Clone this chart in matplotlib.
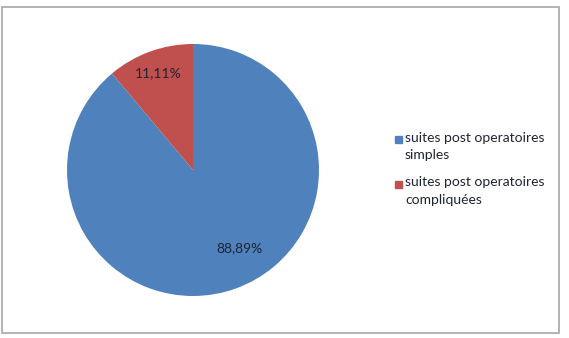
import matplotlib
matplotlib.use("Agg")
import matplotlib.pyplot as plt
import matplotlib.patches as patches
import numpy as np

# data
labels = ["suites post operatoires\nsimples", "suites post operatoires\ncompliquées"]
values = [88.89, 11.11]
colors = ["#4F81BD", "#C0504D"]

W, H = 569, 338
fig = plt.figure(figsize=(W / 100, H / 100), dpi=100)
plt.rcParams['font.family'] = ['Lato', 'DejaVu Sans']

# outer frame
fig.patches.append(patches.Rectangle((1.5 / W, (H - 332.5) / H), 557 / W, 326 / H,
                                     transform=fig.transFigure, fill=False,
                                     edgecolor="#A6A6A6", lw=1.2))

# pie axes: centre (193,170), radius 126 px
cx, cy, r = 193, 170, 126
ax = fig.add_axes([(cx - r) / W, (H - cy - r) / H, 2 * r / W, 2 * r / H])
wedges, _ = ax.pie(values, colors=colors, startangle=90, counterclock=False,
                   radius=1, wedgeprops=dict(linewidth=0))
ax.set_xlim(-1, 1)
ax.set_ylim(-1, 1)
ax.set_aspect("auto")
ax.axis("off")

# data labels (Excel best-fit positions: distance, angle)
for v, (d, ang) in zip(values, [(0.72, -59.2), (0.82, 109.8)]):
    a = np.deg2rad(ang)
    ax.text(d * np.cos(a), d * np.sin(a), f"{v:.2f}%".replace(".", ","),
            ha="center", va="center", fontsize=10, color="#1F2433")

# legend
ys = [139, 184]
for (lab, col), y in zip(zip(labels, colors), ys):
    fig.patches.append(patches.Rectangle((394.5 / W, (H - y - 3.5) / H), 7 / W, 7 / H,
                                         transform=fig.transFigure, color=col))
    fig.text(405 / W, (H - y + 7.5) / H, lab, ha="left", va="top", fontsize=10,
             color="#1F2433", linespacing=1.55)

fig.savefig("out.png", dpi=100)
